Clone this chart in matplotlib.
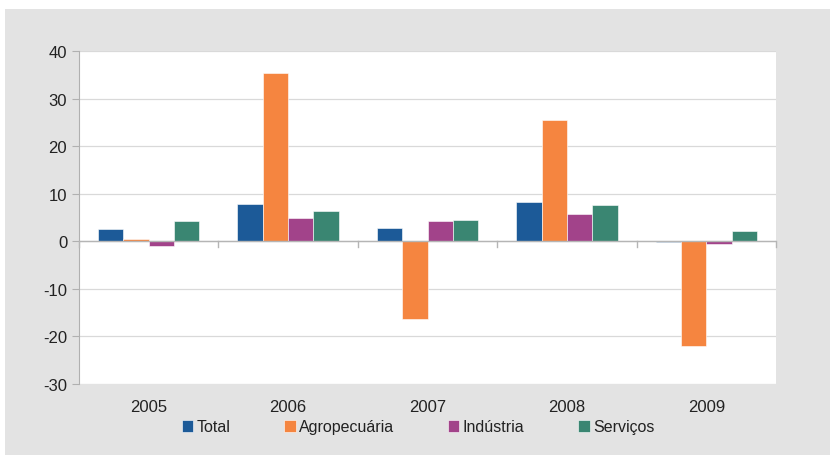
import matplotlib
matplotlib.use("Agg")
import matplotlib.pyplot as plt
import numpy as np
from matplotlib.patches import Rectangle

plt.rcParams['font.family'] = ['Liberation Sans', 'DejaVu Sans']
plt.rcParams['axes.unicode_minus'] = False

years = ['2005', '2006', '2007', '2008', '2009']
series = ['Total', 'Agropecuária', 'Indústria', 'Serviços']
total = [2.5, 7.8, 2.8, 8.2, -0.2]
agro = [0.5, 35.3, -16.4, 25.4, -22.1]
industria = [-1.0, 5.0, 4.2, 5.7, -0.5]
servicos = [4.2, 6.3, 4.4, 7.6, 2.1]
colors = ['#1c5a98', '#f58540', '#a2438a', '#3a8672']

fig = plt.figure(figsize=(8.3, 4.56), dpi=100)
fig.patch.set_facecolor('white')
fig.add_artist(Rectangle((5/830, 0), 1, 1 - 10/456, transform=fig.transFigure,
                         facecolor='#e3e3e3', edgecolor='none', zorder=-10))

ax = fig.add_axes([79/830, 1 - 385/456, (776 - 79)/830, (385 - 52)/456])
ax.set_facecolor('white')

x = np.arange(len(years))
w = 1 / 5.5
data = [total, agro, industria, servicos]
for i, (vals, c, name) in enumerate(zip(data, colors, series)):
    ax.bar(x + (i - 1.5) * w, vals, width=w, color=c, label=name, zorder=3,
           edgecolor='white', linewidth=0.4)

ax.set_xlim(-0.5, len(years) - 0.5)
ax.set_ylim(-30, 40)
ax.set_yticks(range(-30, 41, 10))
ax.yaxis.grid(True, color='#d9d9d9', linewidth=0.9, zorder=0)
for s in ['top', 'right', 'bottom']:
    ax.spines[s].set_visible(False)
ax.spines['left'].set_color('#b0b0b0')
ax.tick_params(axis='y', colors='#b0b0b0', labelcolor='#222222', labelsize=12, length=5)
ax.tick_params(axis='x', length=0, labelsize=12, labelcolor='#222222', pad=11)
ax.set_xticks(x)
ax.set_xticklabels(years)

# zero axis line with boundary ticks
ax.axhline(0, color='#b5b5b5', linewidth=1.0, zorder=4)
for b in np.arange(-0.5, len(years), 1.0):
    ax.plot([b, b], [0, -1.2], color='#b5b5b5', linewidth=1.0, zorder=4, clip_on=False)

leg = fig.legend(loc='center', bbox_to_anchor=(418/830, 1 - 428/456), ncol=4, frameon=False,
                 fontsize=11.5, handlelength=0.7, handleheight=0.7, handletextpad=0.2,
                 columnspacing=3.4)
for t in leg.get_texts():
    t.set_color('#222222')

fig.savefig('out.png', dpi=100, facecolor=fig.get_facecolor())
